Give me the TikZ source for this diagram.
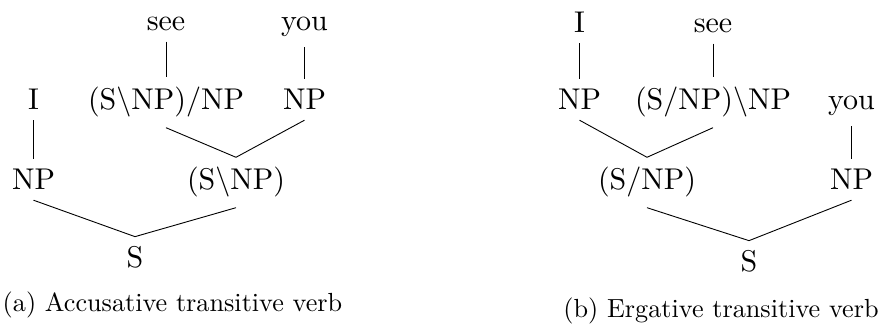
\documentclass[tikz,border=0pt]{standalone}
\usepackage{fontspec}
\setmainfont{lmroman10-regular.otf}
\tikzset{
  cat/.style={anchor=base, inner sep=10pt, font=\fontsize{30}{36}\selectfont},
  capt/.style={anchor=base, inner sep=0pt, font=\fontsize{26.2}{32}\selectfont},
  edge/.style={line width=0.9pt}
}
\begin{document}
\begin{tikzpicture}[x=1pt,y=-1pt]
\useasboundingbox (0,0) rectangle (880,328);
% (a) accusative
\node[cat] (asee) at (166,31) {see};
\node[cat] (ayou) at (304.5,31) {you};
\node[cat] (aI) at (33.5,110) {I};
\node[cat] (averb) at (166,110) {(S\textbackslash NP)/NP};
\node[cat] (aobj) at (304.5,110) {NP};
\node[cat] (asubj) at (33.5,190) {NP};
\node[cat] (avp) at (236,190) {(S\textbackslash NP)};
\node[cat] (aS) at (135,268) {S};
\node[capt] (acap) at (172.5,312) {(a) Accusative transitive verb};
\draw[edge] (asee.south) -- (averb.north);
\draw[edge] (ayou.south) -- (aobj.north);
\draw[edge] (aI.south) -- (asubj.north);
\draw[edge] (averb.south) -- (avp.north);
\draw[edge] (aobj.south) -- (avp.north);
\draw[edge] (asubj.south) -- (aS.north);
\draw[edge] (avp.south) -- (aS.north);
% (b) ergative
\node[cat] (bI) at (579.5,33) {I};
\node[cat] (bsee) at (713,33) {see};
\node[cat] (bsubj) at (579.5,110) {NP};
\node[cat] (bverb) at (713,110) {(S/NP)\textbackslash NP};
\node[cat] (byou) at (851.5,110) {you};
\node[cat] (bvp) at (647,190) {(S/NP)};
\node[cat] (bobj) at (851.5,190) {NP};
\node[cat] (bS) at (749,272) {S};
\node[capt] (bcap) at (721,318) {(b) Ergative transitive verb};
\draw[edge] (bI.south) -- (bsubj.north);
\draw[edge] (bsee.south) -- (bverb.north);
\draw[edge] (byou.south) -- (bobj.north);
\draw[edge] (bsubj.south) -- (bvp.north);
\draw[edge] (bverb.south) -- (bvp.north);
\draw[edge] (bvp.south) -- (bS.north);
\draw[edge] (bobj.south) -- (bS.north);
\end{tikzpicture}
\end{document}
